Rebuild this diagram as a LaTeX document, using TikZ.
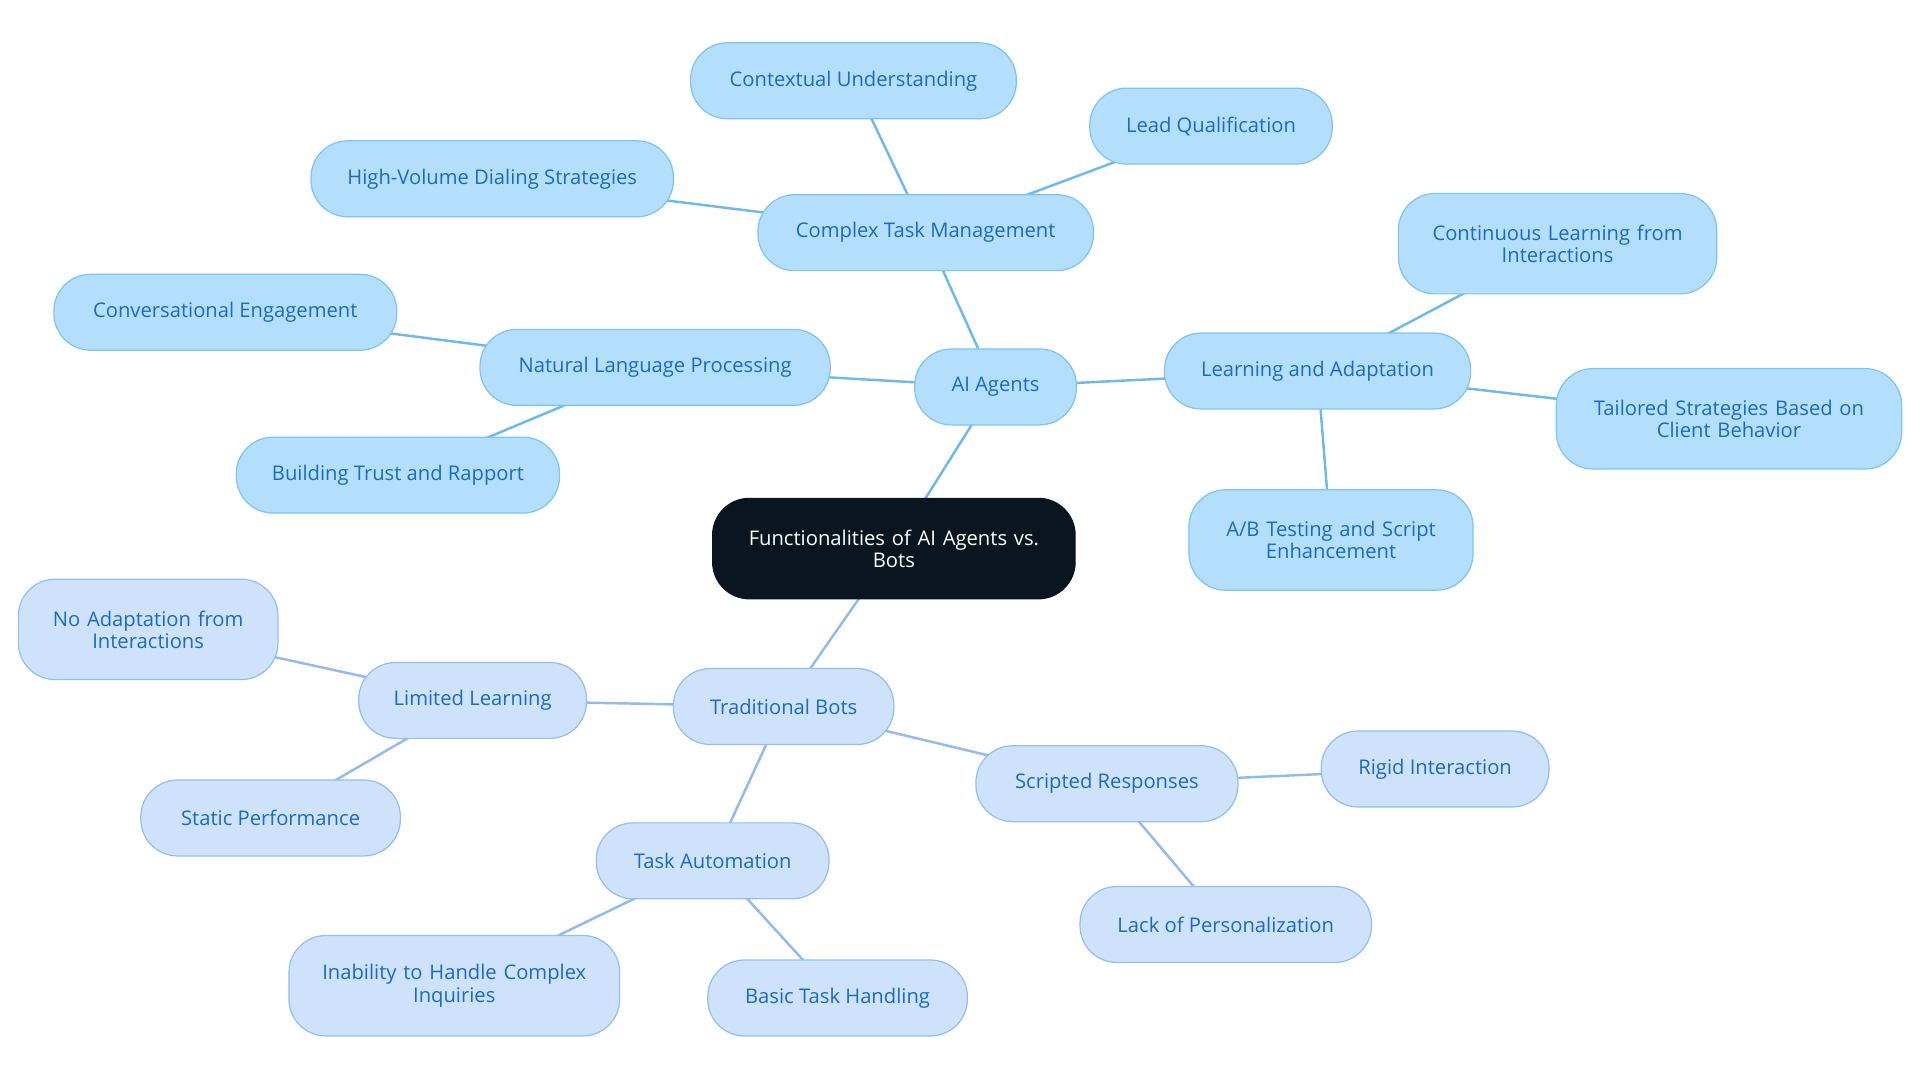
\documentclass[tikz,border=0pt]{standalone}
\usepackage{fontspec}
\setmainfont{Open Sans}
\usetikzlibrary{backgrounds}
\definecolor{afill}{HTML}{B3DFFC}
\definecolor{adraw}{HTML}{7CC4F4}
\definecolor{bfill}{HTML}{CFE2FB}
\definecolor{bdraw}{HTML}{93BEF0}
\definecolor{tcol}{HTML}{1A6BC4}
\definecolor{rootc}{HTML}{0B1520}
\definecolor{aedge}{HTML}{6FB8EA}
\definecolor{bedge}{HTML}{93BAEC}
\tikzset{
 base/.style={rounded corners=30pt, line width=1pt, align=center, inner sep=0pt, font=\fontsize{16.5}{18}\selectfont, text=tcol, minimum height=62pt},
 anode/.style={base, fill=afill, draw=adraw},
 bnode/.style={base, fill=bfill, draw=bdraw},
 tall/.style={minimum height=82pt},
 rootnode/.style={base, fill=rootc, draw=rootc, text=white, minimum height=82pt},
 aline/.style={draw=aedge, line width=2pt},
 bline/.style={draw=bedge, line width=2pt},
}
\begin{document}
\begin{tikzpicture}[x=1pt,y=-1pt]
\useasboundingbox (0,0) rectangle (1568,884);
\node[rootnode, minimum width=296pt, text width=260pt] (root) at (730,448) {Functionalities of AI Agents vs.\\Bots};
\node[anode, minimum width=132pt] (ai) at (813,316) {AI Agents};
\node[anode, minimum width=274pt] (ctm) at (756,190) {Complex Task Management};
\node[anode, minimum width=266pt] (cu) at (697,66) {Contextual Understanding};
\node[anode, minimum width=198pt] (lq) at (989,103) {Lead Qualification};
\node[anode, minimum width=296pt] (hv) at (402,146) {High-Volume Dialing Strategies};
\node[anode, minimum width=286pt] (nlp) at (535,300) {Natural Language Processing};
\node[anode, minimum width=280pt] (ce) at (184,255) {Conversational Engagement};
\node[anode, minimum width=264pt] (bt) at (325,388) {Building Trust and Rapport};
\node[anode, minimum width=250pt] (la) at (1076,303) {Learning and Adaptation};
\node[anode, tall, minimum width=260pt, text width=230pt] (cl) at (1272,199) {Continuous Learning from\\Interactions};
\node[anode, tall, minimum width=282pt, text width=250pt] (ts) at (1412,342) {Tailored Strategies Based on\\Client Behavior};
\node[anode, tall, minimum width=232pt, text width=210pt] (ab) at (1087,441) {A/B Testing and Script\\Enhancement};
\node[bnode, minimum width=180pt] (tb) at (640,577) {Traditional Bots};
\node[bnode, minimum width=186pt] (ll) at (386,572) {Limited Learning};
\node[bnode, tall, minimum width=212pt, text width=190pt] (na) at (121,514) {No Adaptation from\\Interactions};
\node[bnode, minimum width=212pt] (sp) at (221,668) {Static Performance};
\node[bnode, minimum width=190pt] (ta) at (582,703) {Task Automation};
\node[bnode, tall, minimum width=270pt, text width=240pt] (ih) at (371,805) {Inability to Handle Complex\\Inquiries};
\node[bnode, minimum width=212pt] (bh) at (684,815) {Basic Task Handling};
\node[bnode, minimum width=214pt] (sr) at (904,640) {Scripted Responses};
\node[bnode, minimum width=186pt] (ri) at (1172,628) {Rigid Interaction};
\node[bnode, minimum width=238pt] (lp) at (1001,755) {Lack of Personalization};
\begin{pgfonlayer}{background}
\draw[aline] (root.center) -- (ai.center);
\draw[aline] (ai.center) -- (ctm.center);
\draw[aline] (ctm.center) -- (cu.center);
\draw[aline] (ctm.center) -- (lq.center);
\draw[aline] (ctm.center) -- (hv.center);
\draw[aline] (ai.center) -- (nlp.center);
\draw[aline] (nlp.center) -- (ce.center);
\draw[aline] (nlp.center) -- (bt.center);
\draw[aline] (ai.center) -- (la.center);
\draw[aline] (la.center) -- (cl.center);
\draw[aline] (la.center) -- (ts.center);
\draw[aline] (la.center) -- (ab.center);
\draw[bline] (root.center) -- (tb.center);
\draw[bline] (tb.center) -- (ll.center);
\draw[bline] (ll.center) -- (na.center);
\draw[bline] (ll.center) -- (sp.center);
\draw[bline] (tb.center) -- (ta.center);
\draw[bline] (ta.center) -- (ih.center);
\draw[bline] (ta.center) -- (bh.center);
\draw[bline] (tb.center) -- (sr.center);
\draw[bline] (sr.center) -- (ri.center);
\draw[bline] (sr.center) -- (lp.center);
\end{pgfonlayer}
\end{tikzpicture}
\end{document}
